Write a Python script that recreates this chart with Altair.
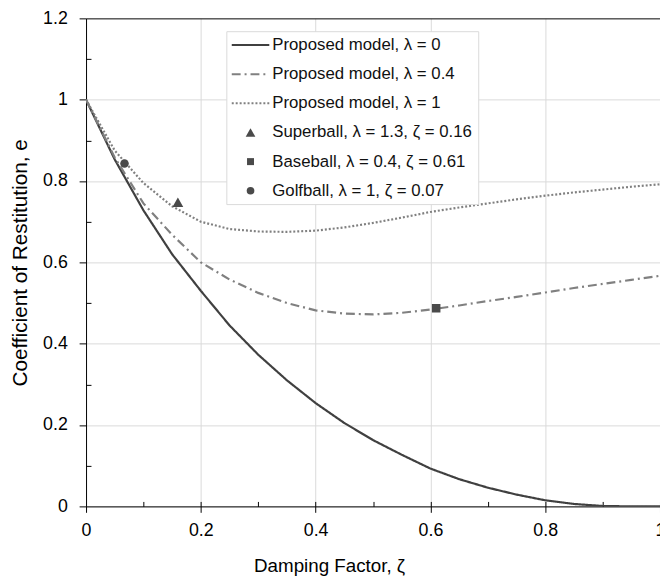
import altair as alt
import pandas as pd

# ---- data ----
zeta = [0, 0.05, 0.1, 0.15, 0.2, 0.25, 0.3, 0.35, 0.4, 0.45, 0.5,
        0.55, 0.6, 0.65, 0.7, 0.75, 0.8, 0.85, 0.9, 0.95, 1.0]
e_lambda0 = [1.0, 0.853, 0.728, 0.62, 0.53, 0.445, 0.373, 0.31, 0.254, 0.205, 0.163,
             0.127, 0.093, 0.067, 0.046, 0.029, 0.015, 0.006, 0.001, 0.0, 0.0]
e_lambda04 = [1.0, 0.858, 0.745, 0.668, 0.60, 0.558, 0.525, 0.50, 0.482, 0.474, 0.472,
              0.476, 0.484, 0.494, 0.505, 0.515, 0.526, 0.537, 0.547, 0.557, 0.567]
e_lambda1 = [1.0, 0.875, 0.795, 0.738, 0.70, 0.682, 0.676, 0.675, 0.678, 0.686, 0.697,
             0.71, 0.724, 0.735, 0.745, 0.755, 0.764, 0.772, 0.779, 0.786, 0.792]

line_names = ["Proposed model, λ = 0", "Proposed model, λ = 0.4", "Proposed model, λ = 1"]
ball_names = ["Superball, λ = 1.3, ζ = 0.16", "Baseball, λ = 0.4, ζ = 0.61", "Golfball, λ = 1, ζ = 0.07"]
ball_zeta = [0.16, 0.61, 0.067]
ball_e = [0.748, 0.487, 0.843]

x_ticks = [0, 0.2, 0.4, 0.6, 0.8, 1.0]
x_inner_ticks = [0.1, 0.2, 0.3, 0.4, 0.5, 0.6, 0.7, 0.8, 0.9, 1.0]
y_ticks = [0, 0.2, 0.4, 0.6, 0.8, 1.0, 1.2]
y_minor_ticks = [0.1, 0.3, 0.5, 0.7, 0.9, 1.1]

all_names = line_names + ball_names
colors = ["#404040", "#808080", "#808080", "#4a4a4a", "#4a4a4a", "#4a4a4a"]
dashes = [[1, 0], [9, 4, 2, 4], [2, 2], [1, 0], [1, 0], [1, 0]]
shapes = ["stroke", "stroke", "stroke", "triangle-up", "square", "circle"]

# ---- tables ----
rows = []
for name, vals in zip(line_names, [e_lambda0, e_lambda04, e_lambda1]):
    for z, v in zip(zeta, vals):
        rows.append({"zeta": z, "e": v, "series": name})
lines_df = pd.DataFrame(rows)
balls_df = pd.DataFrame({"zeta": ball_zeta, "e": ball_e, "series": ball_names})

W, H = 581, 494
FONT = "Liberation Sans"

xscale = alt.Scale(domain=[0, 1], nice=False, zero=False)
yscale = alt.Scale(domain=[0, 1.2], nice=False, zero=False)
color_scale = alt.Scale(domain=all_names, range=colors)

S, B, G = ball_names
shape_expr = (f"datum.value === '{S}' ? 'triangle-up' : datum.value === '{B}' ? 'square' : "
              f"datum.value === '{G}' ? 'circle' : 'stroke'")
size_expr = (f"datum.value === '{S}' ? 95 : datum.value === '{B}' ? 50 : "
             f"datum.value === '{G}' ? 60 : 1444")
dash_expr = (f"datum.value === '{line_names[1]}' ? [9,4,2,4] : "
             f"datum.value === '{line_names[2]}' ? [2,2] : [1,0]")
sw_expr = f"indexof(['{S}','{B}','{G}'], datum.value) >= 0 ? 0 : 2"

legend = alt.Legend(
    title=None, orient="none", legendX=142, legendY=13,
    symbolSize=289, labelOffset=24, rowPadding=11.5, padding=5.5,
    strokeColor="#d9d9d9", fillColor="white",
    labelFont=FONT, labelFontSize=17, labelColor="#111111", labelLimit=400,
)
# hidden Vega-Lite legend property: custom symbol encoding per entry
legend.encoding = {"symbols": {
    "shape": {"value": {"expr": shape_expr}},
    "size": {"value": {"expr": size_expr}},
    "strokeDash": {"value": {"expr": dash_expr}},
    "strokeWidth": {"value": {"expr": sw_expr}},
    "stroke": {"value": {"expr": "scale('color', datum.value)"}},
    "fill": {"value": {"expr": "scale('color', datum.value)"}},
    "x": {"value": 19},
}}

xaxis = alt.Axis(values=x_ticks, format="~g", title="Damping Factor, ζ",
                 grid=True, gridColor="#d9d9d9", gridWidth=1,
                 domainColor="#000000", tickColor="#000000", tickSize=6,
                 labelFontSize=18, labelPadding=9, labelColor="#000000", labelFlush=False,
                 titleFontSize=19, titleFontWeight="normal", titleColor="#000000",
                 titleX=246, titleY=66, titleBaseline="alphabetic", titleAlign="center")
yaxis = alt.Axis(values=y_ticks, format="~g", title="Coefficient of Restitution, e",
                 grid=True,
                 gridColor={"condition": {"test": "datum.value > 1.1", "value": "#000000"},
                            "value": "#d9d9d9"},
                 gridWidth=1, domainColor="#000000", tickColor="#000000", tickSize=7,
                 labelFontSize=18, labelPadding=12, labelColor="#000000",
                 titleFontSize=21, titleFontWeight="normal", titleColor="#000000",
                 titleX=-60, titleY=H / 2, titleBaseline="alphabetic", titleAlign="center",
                 titleAngle=270)

x_in_axis = alt.Axis(orient="top", offset=-H, values=x_inner_ticks, tickSize=5,
                     tickColor="#000000", domain=False, labels=False, grid=False, title=None)
y_in_axis = alt.Axis(orient="right", offset=-W, values=y_minor_ticks, tickSize=5,
                     tickColor="#000000", domain=False, labels=False, grid=False, title=None)

lines = alt.Chart(lines_df).mark_line(strokeWidth=2.2, clip=True).encode(
    x=alt.X("zeta:Q", scale=xscale, axis=xaxis),
    y=alt.Y("e:Q", scale=yscale, axis=yaxis),
    color=alt.Color("series:N", scale=color_scale, legend=legend),
    strokeDash=alt.StrokeDash("series:N", scale=alt.Scale(domain=all_names, range=dashes), legend=None),
)

points = alt.Chart(balls_df).mark_point(filled=True, opacity=1, clip=True).encode(
    x=alt.X("zeta:Q", scale=xscale, axis=None),
    y=alt.Y("e:Q", scale=yscale, axis=None),
    color=alt.Color("series:N", scale=color_scale, legend=None),
    shape=alt.Shape("series:N", scale=alt.Scale(domain=all_names, range=shapes), legend=None),
    size=alt.condition(alt.datum.series == S, alt.value(120), alt.value(75)),
)

inner_ticks = alt.Chart(balls_df).mark_point(opacity=0).encode(
    x=alt.X("zeta:Q", scale=xscale, axis=x_in_axis),
    y=alt.Y("e:Q", scale=yscale, axis=y_in_axis),
)

chart = alt.layer(lines, points, inner_ticks).resolve_axis(
    x="independent", y="independent"
).properties(
    width=W, height=H,
    autosize=alt.AutoSizeParams(type="none"),
    padding={"left": 79, "top": 7, "right": 0, "bottom": 70},
).configure(font=FONT).configure_view(strokeWidth=0)

# the legend 'encoding' property is hidden from the published schema, so skip validation
_orig_to_dict = alt.LayerChart.to_dict


def _to_dict_no_validate(self, *args, **kwargs):
    kwargs["validate"] = False
    return _orig_to_dict(self, *args, **kwargs)


alt.LayerChart.to_dict = _to_dict_no_validate

chart.save("out.html", embed_options={"renderer": "svg", "actions": False})
